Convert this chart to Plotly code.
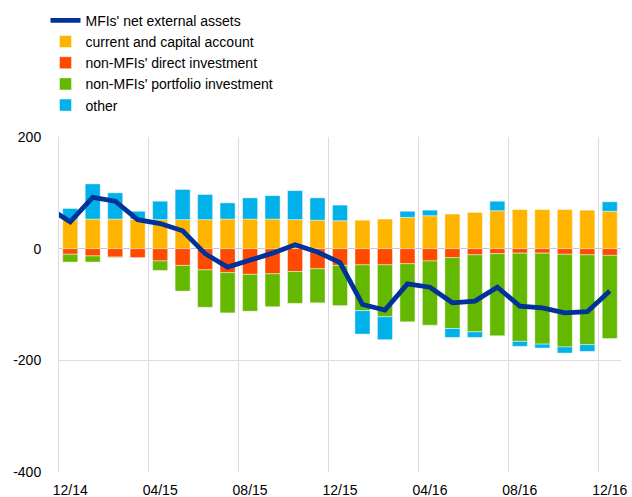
import plotly.graph_objects as go

# ---- data (EUR billions, 12-month flows) ----
months = ["12/14", "01/15", "02/15", "03/15", "04/15", "05/15", "06/15", "07/15",
          "08/15", "09/15", "10/15", "11/15", "12/15", "01/16", "02/16", "03/16",
          "04/16", "05/16", "06/16", "07/16", "08/16", "09/16", "10/16", "11/16", "12/16"]
line_months = ["11/14"] + months
tick_labels = ["12/14", "04/15", "08/15", "12/15", "04/16", "08/16", "12/16"]
y_ticks = [-400, -200, 0, 200]
y_tick_text = ["-400", "-200", "0", "200"]

current_capital = [52, 53, 53, 53, 52, 52, 52, 53, 53, 53, 52, 51, 50,
                   51, 53, 56, 59, 62, 65, 68, 70, 70, 70, 69, 67]
direct_inv = [-10, -13, -15, -16, -22, -30, -38, -43, -46, -45, -41, -36, -30,
              -29, -29, -27, -22, -16, -11, -9, -8, -8, -10, -11, -12]
portfolio_inv = [-14, -11, -1, 0, -17, -46, -67, -72, -66, -59, -57, -61, -72,
                 -82, -93, -104, -115, -127, -138, -147, -158, -163, -166, -161, -149]
other = [20, 63, 47, 14, 33, 54, 45, 29, 38, 42, 52, 40, 28,
         -42, -41, 11, 10, -16, -10, 17, -9, -7, -11, -12, 17]
mfi_nea = [74, 48, 92, 85, 52, 45, 32, -9, -33, -21, -8, 7, -6, -25,
           -100, -110, -63, -69, -97, -94, -69, -103, -106, -115, -113, -76]

FONT = "Arial, Liberation Sans, sans-serif"
edge = dict(color="rgba(255,255,255,0.55)", width=0.8)
bar_w = 0.67

fig = go.Figure()
fig.add_trace(go.Bar(x=months, y=current_capital, name="current and capital account",
                     marker=dict(color="#FFB400", line=edge), width=bar_w, legendrank=2))
fig.add_trace(go.Bar(x=months, y=direct_inv, name="non-MFIs' direct investment",
                     marker=dict(color="#FF4B00", line=edge), width=bar_w, legendrank=3))
fig.add_trace(go.Bar(x=months, y=portfolio_inv, name="non-MFIs' portfolio investment",
                     marker=dict(color="#65B800", line=edge), width=bar_w, legendrank=4))
fig.add_trace(go.Bar(x=months, y=other, name="other",
                     marker=dict(color="#00B1EA", line=edge), width=bar_w, legendrank=5))
fig.add_trace(go.Scatter(x=line_months, y=mfi_nea, name="MFIs' net external assets",
                         mode="lines", line=dict(color="#003299", width=4.8),
                         legendrank=1))

fig.update_layout(
    width=632, height=497,
    margin=dict(l=59, r=11, t=137, b=25, autoexpand=False),
    barmode="relative",
    bargap=0.33,
    plot_bgcolor="white", paper_bgcolor="white",
    font=dict(family=FONT, size=14, color="#000000"),
    showlegend=True,
    legend=dict(x=-0.024, y=1.395, xanchor="left", yanchor="top",
                traceorder="normal", font=dict(family=FONT, size=14, color="#000000"),
                bgcolor="rgba(0,0,0,0)", itemwidth=30, tracegroupgap=0),
)
fig.update_xaxes(
    type="category", categoryorder="array", categoryarray=line_months,
    range=[0.5, len(line_months) - 0.5],
    tickmode="array", tickvals=tick_labels, ticktext=tick_labels, tickangle=0,
    tickson="boundaries", ticks="", showgrid=True, gridcolor="#dcdcdc", gridwidth=1,
    showline=False, zeroline=False, ticklabelstandoff=8, automargin=False,
    tickfont=dict(family=FONT, size=14, color="#000000"),
)
fig.update_yaxes(
    range=[-400, 200], tickmode="array", tickvals=y_ticks, ticktext=y_tick_text,
    showgrid=True, gridcolor="#dcdcdc", gridwidth=1,
    zeroline=True, zerolinecolor="#c8c8c8", zerolinewidth=1,
    showline=True, linecolor="#dcdcdc", linewidth=1,
    ticks="", ticklabelstandoff=14, automargin=False,
    tickfont=dict(family=FONT, size=14, color="#000000"),
)

fig.write_html("out.html", config={"displayModeBar": False},
               post_script="document.body.style.margin='0';document.body.style.padding='0';")
